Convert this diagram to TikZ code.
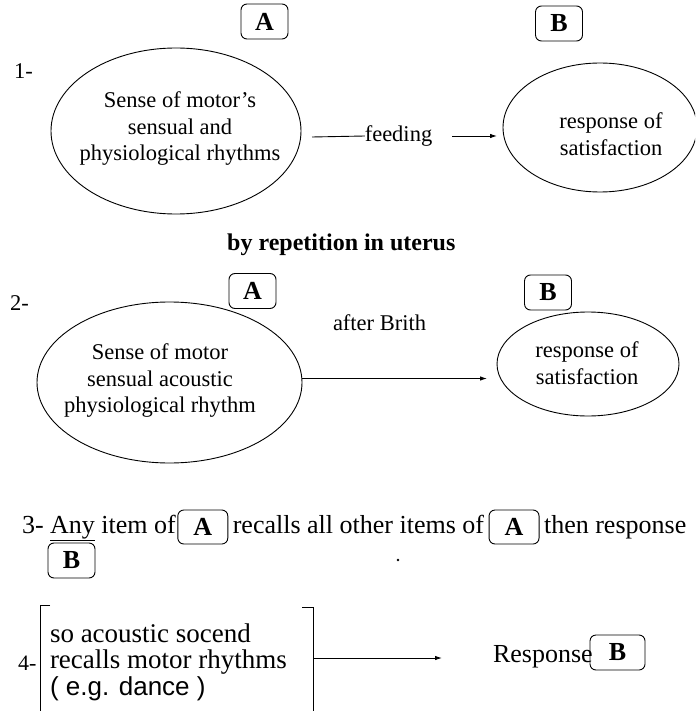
\documentclass[tikz,border=0pt]{standalone}
\usepackage{fontspec}
\setmainfont{Liberation Serif}
\setsansfont{Liberation Sans}
\usetikzlibrary{shapes.geometric,arrows.meta}
\begin{document}
\begin{tikzpicture}[x=1pt,y=-1pt,
  ell/.style={draw,ellipse,line width=0.9pt,inner sep=0pt,outer sep=0pt},
  lbox/.style={draw,rounded corners=6pt,line width=0.9pt,minimum width=47pt,minimum height=35pt,inner sep=0pt,outer sep=0pt,font=\rmfamily\fontsize{26}{26}\selectfont\bfseries},
  txt/.style={inner sep=0pt,outer sep=0pt,font=\rmfamily\fontsize{22.5}{26.5}\selectfont,align=center},
  big/.style={inner sep=0pt,outer sep=0pt,font=\rmfamily\fontsize{26}{26}\selectfont},
  arr/.style={-{Latex[length=7pt,width=4.5pt]},line width=0.9pt},
  ln/.style={line width=0.9pt}]
\useasboundingbox (0,0) rectangle (695,711);
\clip (0,0) rectangle (695,711);

% ---------- row 1 ----------
\node[lbox] (A1box) at (264.5,21.5) {A};
\node[lbox] (B1box) at (559,23.5) {B};
\node[txt,anchor=base west] (n1) at (14,79) {1-};
\node[ell,minimum width=250pt,minimum height=166pt] (A1) at (176,131) {};
\node[txt] (A1t) at (180,129) {Sense of motor’s\\sensual and\\physiological rhythms};
\node[ell,minimum width=194pt,minimum height=129pt] (B1) at (600,127.5) {};
\node[txt] (B1t) at (611,134) {response of\\satisfaction};
\node[txt] (feed) at (398.5,136) {feeding};
\draw[ln] ([xshift=11pt,yshift=-1pt]A1.east |- feed.west) -- (feed.west);
\draw[arr] ([xshift=20pt]feed.east) -- ([xshift=-6pt]B1.west |- feed.east);

\node[inner sep=0pt,font=\rmfamily\fontsize{24}{24}\selectfont\bfseries,anchor=base west] (rep) at (227,250) {by repetition in uterus};

% ---------- row 2 ----------
\node[lbox] (A2box) at (252.5,291) {A};
\node[lbox] (B2box) at (548,292.5) {B};
\node[txt,anchor=base west] (n2) at (10,310) {2-};
\node[ell,minimum width=265pt,minimum height=161pt] (A2) at (169.5,382.5) {};
\node[txt] (A2t) at (160,381) {Sense of motor\\sensual acoustic\\physiological rhythm};
\node[ell,minimum width=182pt,minimum height=104pt] (B2) at (588,364) {};
\node[txt] (B2t) at (587,363) {response of\\satisfaction};
\node[txt,anchor=base west] (birth) at (333,330) {after Brith};
\coordinate (a2s) at ([yshift=4pt]A2.east);
\draw[arr] (a2s) -- ([xshift=-10pt]B2.west |- a2s);

% ---------- row 3 ----------
\node[big,anchor=base west] (t3a) at (22,533) {3- \underline{Any} item of};
\node[lbox,minimum width=50pt,minimum height=34pt,anchor=west] (A3a) at ([xshift=2pt,yshift=6pt]t3a.base east) {A};
\coordinate (c3a) at ([xshift=5pt]A3a.east);
\node[big,anchor=base west] (t3b) at (c3a |- t3a.base) {recalls all other items of};
\node[lbox,minimum width=50pt,minimum height=34pt,anchor=west] (A3b) at ([xshift=5pt,yshift=6pt]t3b.base east) {A};
\coordinate (c3b) at ([xshift=5pt]A3b.east);
\node[big,anchor=base west] (t3c) at (c3b |- t3a.base) {then response};
\node[lbox,minimum width=47pt,minimum height=35pt] (B3) at (71.5,560.5) {B};
\fill (398,560) circle (1.4pt);

% ---------- row 4 ----------
\node[inner sep=0pt,outer sep=0pt,anchor=base west,font=\rmfamily\fontsize{22}{22}\selectfont] (n4) at (18,670) {4-};
\node[inner sep=0pt,outer sep=0pt,anchor=base west,font=\rmfamily\fontsize{27}{27}\selectfont] (t4a) at (50,642) {so acoustic socend};
\node[inner sep=0pt,outer sep=0pt,anchor=base west,font=\rmfamily\fontsize{27}{27}\selectfont] (t4b) at (50,668) {recalls motor rhythms};
\node[inner sep=0pt,outer sep=0pt,anchor=base west,font=\sffamily\fontsize{26}{26}\selectfont] (t4c) at (50,695) {( e.g. dance )};
\draw[ln] (50,605) -- (40,605) -- (40,716);
\draw[ln] (302,607) -- (313,607) -- (313,716);
\coordinate (br4) at (313,658);
\node[big,anchor=base west] (resp) at (493,662) {Response};
\node[lbox,minimum width=55pt,minimum height=35pt] (B4) at (617.5,652.5) {B};
\draw[arr] (br4) -- ([xshift=-51pt]resp.west |- br4);
\end{tikzpicture}
\end{document}
